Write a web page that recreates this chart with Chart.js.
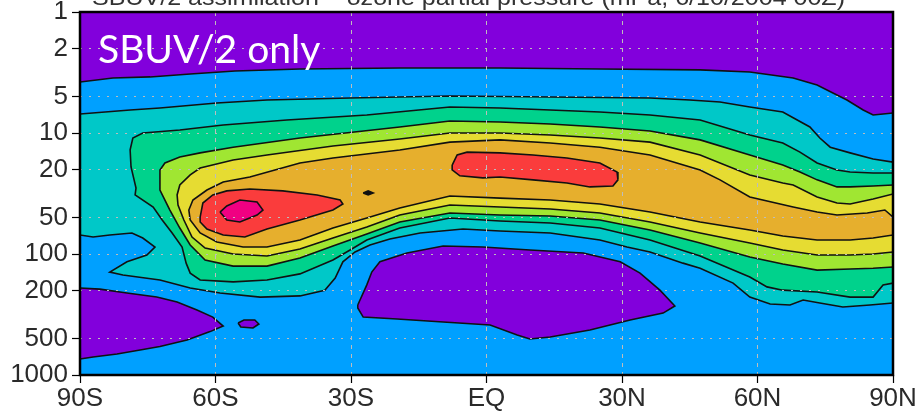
<!DOCTYPE html>
<html><head><meta charset="utf-8">
<script src="https://cdn.jsdelivr.net/npm/chart.js@4.4.1/dist/chart.umd.min.js"></script>
<style>html,body{margin:0;padding:0;background:#fff;}#wrap{width:920px;height:418px;}</style>
</head><body><div id="wrap"><canvas id="c" width="920" height="418"></canvas></div>
<script>
// ---- axis values ----
const latTicks = [-90, -60, -30, 0, 30, 60, 90];
const latLabels = ['90S', '60S', '30S', 'EQ', '30N', '60N', '90N'];
const presTicks = [1, 2, 5, 10, 20, 50, 100, 200, 500, 1000];
const titleText = 'SBUV/2 assimilation \u2013 ozone partial pressure (mPa, 6/10/2004 00Z)';
const panelLabel = 'SBUV/2 only';

// ---- contour regions: [latitude (deg, S<0), pressure (hPa)] ----
const purpleTop = [[-95,3.79],[-90,3.79],[-82.7,3.51],[-74.5,3.44],[-65.6,3.25],[-55.7,3.07],[-41.3,2.96],[-19.2,2.90],[3,2.90],[25.1,2.96],[47.3,3.01],[58.3,3.13],[67.9,3.51],[73.2,4.01],[76.7,4.67],[79.8,5.34],[83.4,6.45],[85.6,7.10],[87.8,6.96],[90,6.83],[95,6.83],[95,0.5],[-95,0.5],[-95,3.79]];
const purpleSW = [[-95,191],[-90,191],[-85.6,195],[-79.6,210],[-73,227],[-68.5,249],[-64.1,290],[-60.6,332],[-58.3,394],[-61.2,438],[-66.3,514],[-72.3,581],[-76.7,621],[-81.8,670],[-87.1,710],[-90,738],[-95,738],[-95,191]];
const purpleDot = [[-55,372],[-53.7,351],[-51.3,351],[-50.4,379],[-51.7,409],[-54.4,401],[-55,372]];
const purpleMid = [[-28.5,264],[-26.5,180],[-25.4,141],[-23.6,116],[-17.6,98.1],[-9.6,85.9],[-0.8,87.5],[9.6,92.7],[21.4,98.1],[29.6,116],[34,144],[38.4,199],[41.7,269],[39.1,308],[31.8,351],[22.9,425],[14.1,485],[9.6,504],[6.8,467],[0.8,386],[-9.6,365],[-19.8,345],[-27.3,332],[-28.5,279],[-28.5,264]];
const cyanBand = [[-95,6.96],[-90,6.96],[-78.9,6.45],[-72.3,6.21],[-59.7,5.65],[-48.6,5.34],[-30.2,5.14],[-8.1,4.94],[14.1,5.04],[36.2,5.14],[45,5.34],[51.7,5.54],[58.3,6.10],[65.6,6.70],[71.6,8.92],[73.8,11.0],[76.1,13.1],[80.5,14.6],[85.6,16.4],[90,17.4],[95,17.4],[95,254],[90,254],[84.9,264],[78.9,274],[73.8,254],[70.1,240],[67.2,264],[62.8,259],[58.3,227],[54.6,174],[47.3,131],[43.5,119],[36.2,96.2],[31.1,87.5],[25.1,76.6],[14.1,67.0],[3,64.6],[-5.2,62.1],[-14.7,67.0],[-21.4,75.2],[-25.8,84.3],[-29.1,96.2],[-31.8,116],[-33.5,158],[-35.8,199],[-41.3,222],[-50.1,227],[-59,210],[-65.6,191],[-72.3,164],[-80.5,149],[-83.4,141],[-79.6,116],[-75.2,102],[-73.4,87.5],[-76.1,73.8],[-78.5,67.0],[-83.4,69.7],[-87.1,72.4],[-90,69.7],[-95,69.7],[-95,6.96]];
const greenBand = [[95,21.4],[90,21.4],[85.6,21.4],[80.5,21.0],[77.6,20.2],[73.2,17.7],[69.4,14.4],[65.6,12.1],[58.3,10.4],[47.3,7.81],[36.2,7.10],[25.1,6.70],[14.1,6.45],[3,6.21],[-8.1,6.10],[-26.5,7.10],[-44.2,7.81],[-58.3,8.59],[-67.9,9.44],[-76.1,10.0],[-78.3,11.0],[-78.9,13.8],[-78.7,19.1],[-77.6,28.5],[-77.8,32.5],[-73.8,40.9],[-71.8,52.4],[-69.6,67.0],[-67.4,87.5],[-66.5,119],[-65.6,144],[-63.4,164],[-56.1,170],[-48.6,164],[-41.3,146],[-34,112],[-30.2,92.7],[-26.5,76.6],[-19.2,61.0],[-8.1,50.4],[3,53.4],[14.1,55.5],[25.1,61.0],[36.2,76.6],[47.3,104],[58.3,155],[62.1,187],[65.6,199],[73.2,206],[80.5,227],[85.6,227],[87.8,180],[90,174],[95,174],[95,21.4]];
const ygBand = [[95,26.9],[90,26.9],[85.6,27.4],[80.5,27.9],[77.6,27.9],[73.2,24.4],[69.4,21.0],[65.6,18.4],[58.3,15.2],[47.3,11.4],[36.2,9.63],[25.1,8.92],[14.1,8.43],[3,8.11],[-8.1,7.96],[-19.2,8.92],[-41.3,11.0],[-56.1,13.1],[-63.4,14.6],[-67.9,15.8],[-71.2,17.7],[-72.3,20.2],[-72.3,29.6],[-70.1,43.3],[-67.9,61.0],[-65.6,84.3],[-62.3,112],[-56.1,126],[-48.6,126],[-41.3,108],[-34,85.9],[-26.5,68.4],[-19.2,54.4],[-8.1,45.8],[3,47.6],[14.1,48.5],[25.1,52.4],[36.2,63.4],[47.3,81.1],[58.3,106],[65.6,121],[73.2,136],[80.5,133],[85.6,131],[90,128],[95,128],[95,26.9]];
const yellowBand = [[95,31.9],[90,31.9],[85.6,35.1],[80.5,38.6],[77.6,37.9],[73.2,33.8],[67.9,26.9],[65.6,25.9],[58.3,22.2],[47.3,15.2],[36.2,11.9],[25.1,11.0],[14.1,10.4],[3,10.0],[-8.1,10.0],[-19.2,11.2],[-34,12.8],[-48.6,15.2],[-56.1,16.7],[-63.4,19.5],[-65.6,22.2],[-67.9,26.9],[-68.5,32.5],[-68.3,39.4],[-67,52.4],[-65.2,72.4],[-62.3,89.2],[-56.1,100],[-48.6,104],[-41.3,90.9],[-34,73.8],[-26.5,59.8],[-19.2,47.6],[-8.1,39.4],[3,40.9],[14.1,42.5],[25.1,45.8],[36.2,54.4],[47.3,67.0],[58.3,81.1],[65.6,92.7],[73.2,102],[80.5,102],[85.6,100],[90,96.2],[95,96.2],[95,31.9]];
const orangeBand = [[95,49.5],[90,49.5],[88.2,43.3],[84.3,45.8],[77.6,47.6],[73.2,45.0],[67.9,40.9],[58.3,33.8],[51.7,24.4],[47.3,20.2],[36.2,15.2],[25.1,13.1],[14.1,12.1],[3,11.4],[-8.1,11.9],[-19.2,13.8],[-34,16.1],[-41.3,17.7],[-52.4,23.1],[-58.3,25.4],[-61.9,29.6],[-65,35.8],[-65.9,43.3],[-65.6,52.4],[-63.4,67.0],[-59.7,79.6],[-53.9,87.5],[-48.6,87.5],[-41.3,76.6],[-34,61.0],[-26.5,50.4],[-19.2,41.7],[-8.1,33.2],[3,34.5],[14.1,35.8],[25.1,38.6],[36.2,45.0],[47.3,54.4],[58.3,63.4],[65.6,71.0],[73.2,76.6],[80.5,76.6],[85.6,73.8],[90,69.7],[95,69.7],[95,49.5]];
const redSouth = [[-63.4,49.5],[-62.8,37.9],[-60.6,32.5],[-57.5,30.1],[-52.4,29.0],[-45.1,30.1],[-37.5,32.5],[-32.4,35.8],[-31.8,38.6],[-34,43.3],[-41.3,52.4],[-48.6,62.2],[-53.5,72.4],[-58.3,69.7],[-61.9,62.2],[-63.4,54.4],[-63.4,49.5]];
const redNorth = [[-7.6,18.4],[-6.5,15.2],[-4.3,14.4],[3,14.6],[10.3,15.2],[17.8,16.1],[25.1,17.7],[28.9,21.0],[29.1,24.4],[28,27.4],[22.9,27.9],[17.8,25.9],[10.3,24.4],[3,23.1],[-0.8,23.5],[-5.9,22.6],[-7.6,20.2],[-7.6,18.4]];
const redDot = [[-27.3,31.3],[-26.2,30.1],[-25.1,31.3],[-26.2,32.5],[-27.3,31.3]];
const magentaSouth = [[-59,45.0],[-57.5,40.1],[-54.6,35.8],[-50.8,37.2],[-49.5,43.3],[-50.8,47.6],[-54.6,54.4],[-57.5,52.4],[-59,45.0]];

// ---- styling (drawing order bottom -> top) ----
const COLORS = {purple:'#8200dc', blue:'#00a0ff', cyan:'#00c8c8', green:'#00d28c', yg:'#a0e632', yellow:'#e6dc32', orange:'#e6af2d', red:'#fa3c3c', magenta:'#f00082', dark:'#111'};
const layers = [
  [purpleTop, COLORS.purple], [purpleSW, COLORS.purple], [purpleDot, COLORS.purple], [purpleMid, COLORS.purple],
  [cyanBand, COLORS.cyan], [greenBand, COLORS.green], [ygBand, COLORS.yg], [yellowBand, COLORS.yellow],
  [orangeBand, COLORS.orange], [redSouth, COLORS.red], [redNorth, COLORS.red], [redDot, COLORS.dark],
  [magentaSouth, COLORS.magenta]
];
const datasets = layers.map(([pts, col], i) => ({
  data: pts.map(([x, y]) => ({x, y})),
  showLine: true, fill: 'shape', backgroundColor: col,
  borderColor: '#111', borderWidth: 1.6, pointRadius: 0, pointHoverRadius: 0,
  tension: 0, order: -i, clip: 0
}));

const tickFont = {family: "'Liberation Sans Narrow', 'Liberation Sans', sans-serif", size: 26, lineHeight: 1};

const bgPlugin = {
  id: 'bg',
  beforeDatasetsDraw(chart) {
    const {ctx, chartArea: a} = chart;
    ctx.save(); ctx.fillStyle = COLORS.blue; ctx.fillRect(a.left, a.top, a.right - a.left, a.bottom - a.top); ctx.restore();
  }
};
const framePlugin = {
  id: 'frame',
  afterDraw(chart) {
    const {ctx, chartArea: a} = chart;
    ctx.save();
    ctx.strokeStyle = '#000'; ctx.lineWidth = 2.5;
    ctx.strokeRect(a.left, a.top, a.right - a.left, a.bottom - a.top);
    ctx.fillStyle = '#fff'; ctx.font = '39px Lato, "Open Sans", sans-serif'; ctx.textBaseline = 'alphabetic'; ctx.textAlign = 'left';
    ctx.fillText(panelLabel, 98, 63);
    ctx.fillStyle = '#333'; ctx.font = '22px "Liberation Sans", sans-serif';
    const w = ctx.measureText(titleText).width;
    ctx.translate(92, 5); ctx.scale(753 / w, 1);
    ctx.fillText(titleText, 0, 0);
    ctx.restore();
  }
};

new Chart(document.getElementById('c'), {
  type: 'scatter',
  data: {datasets},
  options: {
    responsive: false, animation: false, devicePixelRatio: 1, events: [],
    layout: {padding: {top: 12, right: 27, bottom: 0, left: 0}},
    plugins: {legend: {display: false}, tooltip: {enabled: false}, title: {display: false}},
    scales: {
      x: {
        type: 'linear', min: -90, max: 90,
        afterBuildTicks: s => { s.ticks = latTicks.map(v => ({value: v})); },
        afterFit: s => { s.height = 43; s.paddingLeft = 0; s.paddingRight = 0; },
        ticks: {callback: (v, i) => latLabels[i], font: tickFont, color: '#2a2a2a', padding: 3, maxRotation: 0, autoSkip: false},
        grid: {color: '#bdbdbd', lineWidth: 1, tickColor: '#000', tickLength: 8, tickWidth: 1.2, z: 1},
        border: {display: false, dash: [4, 5]}
      },
      y: {
        type: 'logarithmic', reverse: true, min: 1, max: 1000,
        afterBuildTicks: s => { s.ticks = presTicks.map(v => ({value: v})); },
        afterFit: s => { s.width = 80; s.paddingTop = 0; s.paddingBottom = 0; },
        ticks: {callback: (v, i) => String(presTicks[i]), font: tickFont, color: '#2a2a2a', padding: 4, autoSkip: false},
        grid: {color: '#bdbdbd', lineWidth: 1, tickColor: '#000', tickLength: 8, tickWidth: 1.2, z: 1},
        border: {display: false, dash: [2, 7]}
      }
    }
  },
  plugins: [bgPlugin, framePlugin]
});
</script></body></html>
